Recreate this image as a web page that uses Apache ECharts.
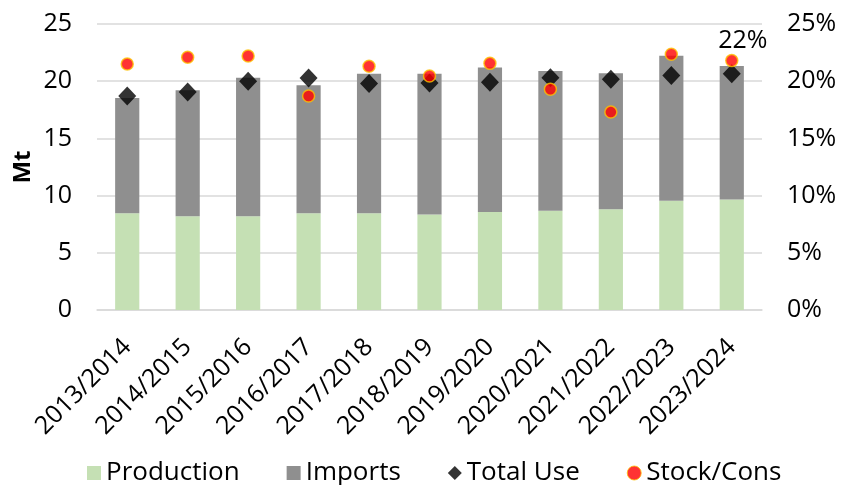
<!DOCTYPE html>
<html><head><meta charset="utf-8">
<script src="https://cdn.jsdelivr.net/npm/echarts@6/dist/echarts.min.js"></script>
<style>html,body{margin:0;padding:0;background:#fff}#c{width:842px;height:485px}</style>
</head><body><div id="c"></div>
<script>
const categories = ["2013/2014","2014/2015","2015/2016","2016/2017","2017/2018","2018/2019","2019/2020","2020/2021","2021/2022","2022/2023","2023/2024"];
const production = [8.45, 8.2, 8.2, 8.45, 8.45, 8.35, 8.57, 8.68, 8.8, 9.56, 9.67];
const imports = [10.08, 11.0, 12.1, 11.19, 12.21, 12.31, 12.63, 12.22, 11.9, 12.67, 11.66];
const totalUse = [18.7, 19.05, 20.0, 20.28, 19.8, 19.85, 19.9, 20.3, 20.17, 20.5, 20.66];
const stockCons = [21.5, 22.1, 22.2, 18.7, 21.3, 20.45, 21.56, 19.3, 17.3, 22.35, 21.8];
const leftTicks = [0, 5, 10, 15, 20, 25];
const rightTicks = [0, 5, 10, 15, 20, 25];

const FONT = '"Open Sans", sans-serif';
const lastIdx = stockCons.length - 1;
const chart = echarts.init(document.getElementById('c'));
chart.setOption({
  animation: false,
  textStyle: {fontFamily: FONT, color: '#000'},
  grid: {left: 97, right: 80, top: 24, bottom: 175},
  legend: {
    top: 455, left: 82, itemGap: 47, itemWidth: 14, itemHeight: 14,
    textStyle: {fontSize: 26, color: '#000', fontFamily: FONT},
    data: [
      {name: 'Production', icon: 'rect'},
      {name: 'Imports', icon: 'rect'},
      {name: 'Total Use', icon: 'diamond'},
      {name: 'Stock/Cons', icon: 'circle', itemStyle: {borderWidth: 1}}
    ]
  },
  xAxis: {
    type: 'category', data: categories,
    axisLine: {lineStyle: {color: '#D9D9D9', width: 1.5}},
    axisTick: {show: false},
    axisLabel: {rotate: 45, fontSize: 25, color: '#000', margin: 33, interval: 0}
  },
  yAxis: [
    {
      type: 'value', min: leftTicks[0], max: leftTicks[leftTicks.length-1], interval: 5,
      name: 'Mt', nameLocation: 'middle', nameGap: 62, nameRotate: 90, nameMoveOverlap: false,
      nameTextStyle: {fontSize: 24, fontWeight: 'bold', color: '#000'},
      axisLine: {show: false}, axisTick: {show: false},
      axisLabel: {fontSize: 25, color: '#000', margin: 25},
      splitLine: {lineStyle: {color: '#D9D9D9', width: 1.5}}
    },
    {
      type: 'value', min: rightTicks[0], max: rightTicks[rightTicks.length-1], interval: 5,
      axisLine: {show: false}, axisTick: {show: false},
      axisLabel: {fontSize: 25, color: '#000', margin: 25, formatter: v => v + '%'},
      splitLine: {show: false}
    }
  ],
  series: [
    {name: 'Production', type: 'bar', stack: 's', data: production, barWidth: '40%',
     itemStyle: {color: '#C5E0B4'}, z: 2},
    {name: 'Imports', type: 'bar', stack: 's', data: imports, barWidth: '40%',
     itemStyle: {color: '#8F8F8F'}, z: 2},
    {name: 'Total Use', type: 'scatter', data: totalUse, symbol: 'diamond', symbolSize: [18, 19],
     itemStyle: {color: '#000'}, z: 3},
    {name: 'Stock/Cons', type: 'scatter', yAxisIndex: 1, data: stockCons,
     symbol: 'circle', symbolSize: 12,
     label: {show: true, position: 'top', distance: 2, offset: [11, 2], fontSize: 25, color: '#000',
       fontWeight: 'normal', textBorderWidth: 0, textShadowBlur: 0, opacity: 1,
       formatter: p => p.dataIndex === lastIdx ? Math.round(p.value) + '%' : ''},
     itemStyle: {color: '#FF0000', borderColor: '#FFC000', borderWidth: 1.5}, z: 4}
  ]
});
</script></body></html>
